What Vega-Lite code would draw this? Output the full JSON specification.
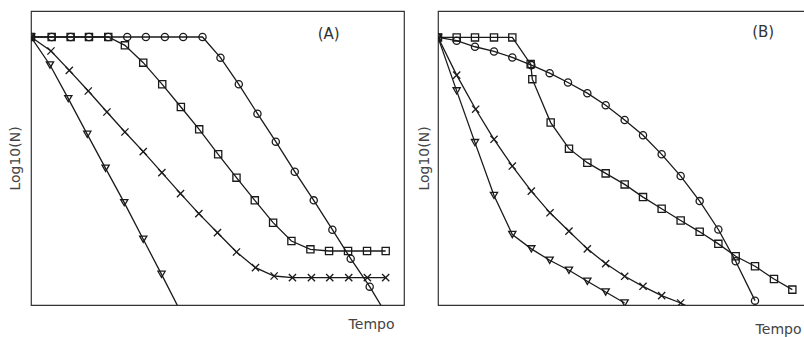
{
  "$schema": "https://vega.github.io/schema/vega-lite/v6.json",
  "background": "white",
  "padding": {"left": 7, "top": 10, "right": 0, "bottom": 0},
  "spacing": 34,
  "bounds": "flush",
  "config": {
    "view": {"stroke": "#333", "strokeWidth": 1.2},
    "axis": {"domain": false, "ticks": false, "labels": false, "grid": false, "titleFont": "DejaVu Sans", "titleFontWeight": "normal", "titleColor": "#444"}
  },
  "datasets": {
    "pts": [
      {"p":"A","s":"circulo","t":0,"y":91.16},{"p":"A","s":"circulo","t":5.54,"y":91.16},{"p":"A","s":"circulo","t":10.63,"y":91.16},{"p":"A","s":"circulo","t":15.54,"y":91.16},{"p":"A","s":"circulo","t":20.71,"y":91.16},{"p":"A","s":"circulo","t":25.8,"y":91.16},{"p":"A","s":"circulo","t":30.8,"y":91.16},{"p":"A","s":"circulo","t":35.89,"y":91.16},{"p":"A","s":"circulo","t":40.8,"y":91.16},{"p":"A","s":"circulo","t":45.98,"y":91.16},{"p":"A","s":"circulo","t":50.8,"y":84.13},{"p":"A","s":"circulo","t":55.71,"y":75.06},{"p":"A","s":"circulo","t":60.71,"y":65.08},{"p":"A","s":"circulo","t":65.63,"y":55.56},{"p":"A","s":"circulo","t":70.71,"y":45.35},{"p":"A","s":"circulo","t":75.8,"y":35.6},{"p":"A","s":"circulo","t":80.8,"y":25.62},{"p":"A","s":"circulo","t":85.71,"y":15.76},{"p":"A","s":"circulo","t":90.8,"y":6.24},{"p":"A","s":"circulo","t":95.9,"y":-4.5},
      {"p":"A","s":"quadrado","t":0,"y":91.16},{"p":"A","s":"quadrado","t":5.54,"y":91.16},{"p":"A","s":"quadrado","t":10.63,"y":91.16},{"p":"A","s":"quadrado","t":15.54,"y":91.16},{"p":"A","s":"quadrado","t":20.71,"y":91.16},{"p":"A","s":"quadrado","t":25.18,"y":88.32},{"p":"A","s":"quadrado","t":30.09,"y":82.43},{"p":"A","s":"quadrado","t":35.18,"y":75.06},{"p":"A","s":"quadrado","t":40.18,"y":67.35},{"p":"A","s":"quadrado","t":45.09,"y":59.75},{"p":"A","s":"quadrado","t":50.18,"y":51.25},{"p":"A","s":"quadrado","t":55.09,"y":43.31},{"p":"A","s":"quadrado","t":60.0,"y":35.6},{"p":"A","s":"quadrado","t":64.91,"y":28.0},{"p":"A","s":"quadrado","t":69.82,"y":21.77},{"p":"A","s":"quadrado","t":74.91,"y":18.93},{"p":"A","s":"quadrado","t":79.91,"y":18.37},{"p":"A","s":"quadrado","t":85.0,"y":18.37},{"p":"A","s":"quadrado","t":90.09,"y":18.37},{"p":"A","s":"quadrado","t":95.09,"y":18.37},
      {"p":"A","s":"xis","t":0,"y":91.16},{"p":"A","s":"xis","t":5.36,"y":86.39},{"p":"A","s":"xis","t":10.27,"y":79.82},{"p":"A","s":"xis","t":15.36,"y":72.79},{"p":"A","s":"xis","t":20.36,"y":65.65},{"p":"A","s":"xis","t":25.18,"y":58.84},{"p":"A","s":"xis","t":30.09,"y":52.15},{"p":"A","s":"xis","t":35.09,"y":45.01},{"p":"A","s":"xis","t":40.09,"y":37.87},{"p":"A","s":"xis","t":45.0,"y":31.07},{"p":"A","s":"xis","t":50.0,"y":24.6},{"p":"A","s":"xis","t":55.09,"y":18.03},{"p":"A","s":"xis","t":60.18,"y":12.7},{"p":"A","s":"xis","t":65.18,"y":9.86},{"p":"A","s":"xis","t":70.09,"y":9.3},{"p":"A","s":"xis","t":75.18,"y":9.3},{"p":"A","s":"xis","t":80.09,"y":9.3},{"p":"A","s":"xis","t":85.18,"y":9.3},{"p":"A","s":"xis","t":90.18,"y":9.3},{"p":"A","s":"xis","t":95.09,"y":9.3},
      {"p":"A","s":"triangulo","t":0,"y":91.16},{"p":"A","s":"triangulo","t":5.09,"y":81.63},{"p":"A","s":"triangulo","t":10.0,"y":70.18},{"p":"A","s":"triangulo","t":15.09,"y":58.05},{"p":"A","s":"triangulo","t":20.0,"y":46.49},{"p":"A","s":"triangulo","t":25.0,"y":34.81},{"p":"A","s":"triangulo","t":30.09,"y":22.34},{"p":"A","s":"triangulo","t":35.0,"y":10.43},{"p":"A","s":"triangulo","t":40.0,"y":-2.0},
      {"p":"B","s":"circulo","t":0,"y":91.02},{"p":"B","s":"circulo","t":5.09,"y":89.89},{"p":"B","s":"circulo","t":10.08,"y":87.84},{"p":"B","s":"circulo","t":15.26,"y":86.25},{"p":"B","s":"circulo","t":20.25,"y":84.2},{"p":"B","s":"circulo","t":25.43,"y":81.59},{"p":"B","s":"circulo","t":30.43,"y":78.86},{"p":"B","s":"circulo","t":35.42,"y":75.68},{"p":"B","s":"circulo","t":40.69,"y":72.05},{"p":"B","s":"circulo","t":45.69,"y":67.95},{"p":"B","s":"circulo","t":50.86,"y":62.95},{"p":"B","s":"circulo","t":55.86,"y":57.73},{"p":"B","s":"circulo","t":60.94,"y":51.25},{"p":"B","s":"circulo","t":66.12,"y":43.86},{"p":"B","s":"circulo","t":71.3,"y":35.34},{"p":"B","s":"circulo","t":76.39,"y":25.68},{"p":"B","s":"circulo","t":81.11,"y":14.89},{"p":"B","s":"circulo","t":86.38,"y":1.48},
      {"p":"B","s":"quadrado","t":0,"y":91.02},{"p":"B","s":"quadrado","t":5.09,"y":91.02},{"p":"B","s":"quadrado","t":10.08,"y":91.02},{"p":"B","s":"quadrado","t":15.26,"y":91.02},{"p":"B","s":"quadrado","t":20.25,"y":91.02},{"p":"B","s":"quadrado","t":25.25,"y":81.93},{"p":"B","s":"quadrado","t":25.7,"y":76.82},{"p":"B","s":"quadrado","t":30.7,"y":62.05},{"p":"B","s":"quadrado","t":35.69,"y":53.18},{"p":"B","s":"quadrado","t":40.69,"y":48.41},{"p":"B","s":"quadrado","t":45.69,"y":44.77},{"p":"B","s":"quadrado","t":50.86,"y":41.02},{"p":"B","s":"quadrado","t":55.86,"y":36.7},{"p":"B","s":"quadrado","t":60.94,"y":32.73},{"p":"B","s":"quadrado","t":66.12,"y":28.75},{"p":"B","s":"quadrado","t":71.3,"y":24.89},{"p":"B","s":"quadrado","t":76.39,"y":20.8},{"p":"B","s":"quadrado","t":81.11,"y":16.59},{"p":"B","s":"quadrado","t":86.38,"y":13.18},{"p":"B","s":"quadrado","t":91.55,"y":8.86},{"p":"B","s":"quadrado","t":96.55,"y":5.23},
      {"p":"B","s":"xis","t":0,"y":91.02},{"p":"B","s":"xis","t":5.09,"y":78.18},{"p":"B","s":"xis","t":10.26,"y":66.59},{"p":"B","s":"xis","t":15.26,"y":56.36},{"p":"B","s":"xis","t":20.25,"y":47.27},{"p":"B","s":"xis","t":25.43,"y":38.75},{"p":"B","s":"xis","t":30.52,"y":31.36},{"p":"B","s":"xis","t":35.69,"y":25.11},{"p":"B","s":"xis","t":40.69,"y":19.09},{"p":"B","s":"xis","t":45.69,"y":14.09},{"p":"B","s":"xis","t":50.86,"y":9.77},{"p":"B","s":"xis","t":55.86,"y":6.36},{"p":"B","s":"xis","t":60.94,"y":3.18},{"p":"B","s":"xis","t":66.12,"y":0.68},{"p":"B","s":"xis","t":71.2,"y":-2.5},
      {"p":"B","s":"triangulo","t":0,"y":91.02},{"p":"B","s":"triangulo","t":5.09,"y":72.84},{"p":"B","s":"triangulo","t":10.08,"y":55.23},{"p":"B","s":"triangulo","t":15.26,"y":37.27},{"p":"B","s":"triangulo","t":20.25,"y":23.98},{"p":"B","s":"triangulo","t":25.43,"y":19.09},{"p":"B","s":"triangulo","t":30.43,"y":15.23},{"p":"B","s":"triangulo","t":35.69,"y":11.82},{"p":"B","s":"triangulo","t":40.69,"y":8.07},{"p":"B","s":"triangulo","t":45.69,"y":4.43},{"p":"B","s":"triangulo","t":50.86,"y":0.68}
    ],
    "labels": [
      {"p":"A","label":"(A)","t":79.8,"y":92.2},
      {"p":"B","label":"(B)","t":88.6,"y":92.8}
    ]
  },
  "hconcat": [
    {
      "width": 373,
      "height": 294,
      "layer": [
        {
          "data": {"name": "pts"},
          "transform": [{"filter": "datum.p === 'A'"}],
          "mark": {"type": "line", "color": "#1a1a1a", "strokeWidth": 1.3, "clip": true},
          "encoding": {
            "x": {"field": "t", "type": "quantitative", "scale": {"domain": [0, 100], "nice": false, "zero": false}, "axis": {"title": "Tempo", "titleFontSize": 14, "titleAlign": "right", "titleBaseline": "alphabetic", "titleX": 363, "titleY": 23}},
            "y": {"field": "y", "type": "quantitative", "scale": {"domain": [0, 100], "nice": false, "zero": false}, "axis": {"title": "Log10(N)", "titleFontSize": 14, "titleAlign": "center", "titleBaseline": "middle", "titleX": -15.5, "titleY": 147}},
            "detail": {"field": "s"}
          }
        },
        {
          "data": {"name": "pts"},
          "transform": [{"filter": "datum.p === 'A'"}],
          "mark": {"type": "point", "color": "#1a1a1a", "filled": false, "strokeWidth": 1.3, "size": 52, "opacity": 1, "clip": true},
          "encoding": {
            "x": {"field": "t", "type": "quantitative"},
            "y": {"field": "y", "type": "quantitative"},
            "shape": {"field": "s", "type": "nominal", "scale": {"domain": ["circulo", "quadrado", "xis", "triangulo"], "range": ["circle", "square", "M-1,-1L1,1M-1,1L1,-1", "triangle-down"]}, "legend": null}
          }
        },
        {
          "data": {"name": "labels"},
          "transform": [{"filter": "datum.p === 'A'"}],
          "mark": {"type": "text", "font": "DejaVu Sans", "fontSize": 15, "color": "#333", "align": "center", "baseline": "middle"},
          "encoding": {
            "x": {"field": "t", "type": "quantitative"},
            "y": {"field": "y", "type": "quantitative"},
            "text": {"field": "label"}
          }
        }
      ]
    },
    {
      "width": 367,
      "height": 294,
      "layer": [
        {
          "data": {"name": "pts"},
          "transform": [{"filter": "datum.p === 'B'"}],
          "mark": {"type": "line", "color": "#1a1a1a", "strokeWidth": 1.3, "clip": true},
          "encoding": {
            "x": {"field": "t", "type": "quantitative", "scale": {"domain": [0, 100], "nice": false, "zero": false}, "axis": {"title": "Tempo", "titleFontSize": 14, "titleAlign": "right", "titleBaseline": "alphabetic", "titleX": 363, "titleY": 28.5}},
            "y": {"field": "y", "type": "quantitative", "scale": {"domain": [0, 100], "nice": false, "zero": false}, "axis": {"title": "Log10(N)", "titleFontSize": 14, "titleAlign": "center", "titleBaseline": "middle", "titleX": -14, "titleY": 147}},
            "detail": {"field": "s"}
          }
        },
        {
          "data": {"name": "pts"},
          "transform": [{"filter": "datum.p === 'B'"}],
          "mark": {"type": "point", "color": "#1a1a1a", "filled": false, "strokeWidth": 1.3, "size": 52, "opacity": 1, "clip": true},
          "encoding": {
            "x": {"field": "t", "type": "quantitative"},
            "y": {"field": "y", "type": "quantitative"},
            "shape": {"field": "s", "type": "nominal", "scale": {"domain": ["circulo", "quadrado", "xis", "triangulo"], "range": ["circle", "square", "M-1,-1L1,1M-1,1L1,-1", "triangle-down"]}, "legend": null}
          }
        },
        {
          "data": {"name": "labels"},
          "transform": [{"filter": "datum.p === 'B'"}],
          "mark": {"type": "text", "font": "DejaVu Sans", "fontSize": 15, "color": "#333", "align": "center", "baseline": "middle"},
          "encoding": {
            "x": {"field": "t", "type": "quantitative"},
            "y": {"field": "y", "type": "quantitative"},
            "text": {"field": "label"}
          }
        }
      ]
    }
  ]
}
